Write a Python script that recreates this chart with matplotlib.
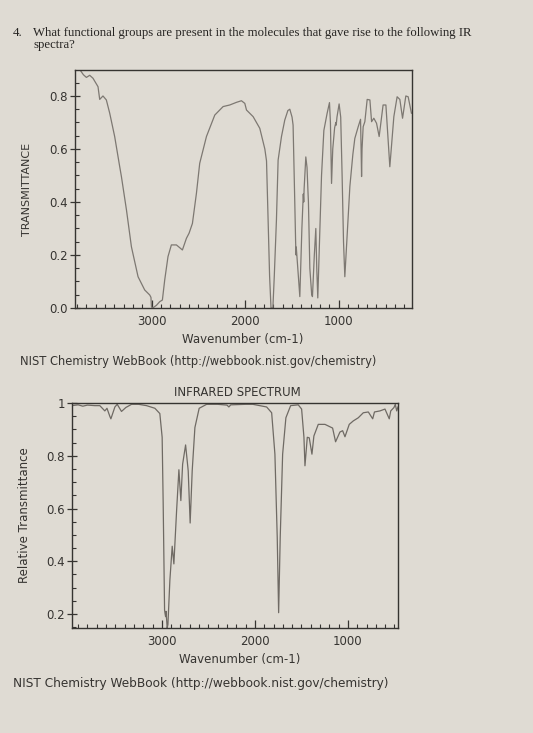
import matplotlib
matplotlib.use("Agg")
import matplotlib.pyplot as plt
from matplotlib.ticker import MultipleLocator

# top spectrum
wn_top = [3770, 3730, 3698, 3663, 3628, 3574, 3556, 3521, 3485, 3449, 3396, 3342, 3324, 3270,
          3217, 3146, 3075, 3021, 3008, 3003, 2990, 2950, 2914, 2886, 2861, 2826, 2790, 2736,
          2672, 2629, 2601, 2565, 2522, 2487, 2415, 2326, 2237, 2166, 2094, 2041, 2005, 1987,
          1916, 1845, 1791, 1773, 1756, 1740, 1725, 1705, 1690, 1667, 1649, 1613, 1578, 1545,
          1524, 1500, 1489, 1471, 1462, 1458, 1455, 1417, 1395, 1380, 1375, 1371, 1353, 1340,
          1330, 1325, 1310, 1290, 1282, 1262, 1246, 1236, 1225, 1205, 1185, 1160, 1125, 1100,
          1090, 1078, 1065, 1045, 1032, 1028, 1020, 997, 980, 965, 950, 936, 915, 882, 850, 829,
          793, 768, 760, 757, 752, 740, 722, 697, 668, 650, 626, 597, 569, 527, 497, 455, 412,
          377, 348, 319, 284, 259, 224]
t_top = [0.900, 0.880, 0.870, 0.878, 0.867, 0.835, 0.787, 0.800, 0.785, 0.735, 0.647, 0.533, 0.496, 0.370,
         0.231, 0.118, 0.068, 0.049, 0.040, 0.005, 0.000, 0.010, 0.024, 0.030, 0.106, 0.194, 0.238, 0.238,
         0.219, 0.263, 0.282, 0.319, 0.433, 0.546, 0.647, 0.728, 0.760, 0.766, 0.776, 0.782, 0.772, 0.747,
         0.722, 0.678, 0.600, 0.555, 0.332, 0.120, 0.000, 0.000, 0.120, 0.332, 0.558, 0.647, 0.709, 0.745,
         0.750, 0.720, 0.690, 0.400, 0.250, 0.200, 0.230, 0.043, 0.300, 0.430, 0.400, 0.450, 0.570, 0.530,
         0.440, 0.400, 0.150, 0.050, 0.043, 0.200, 0.300, 0.150, 0.038, 0.270, 0.500, 0.670, 0.735, 0.775,
         0.700, 0.470, 0.600, 0.680, 0.700, 0.690, 0.720, 0.770, 0.720, 0.500, 0.250, 0.118, 0.250, 0.459, 0.580, 0.640,
         0.684, 0.712, 0.560, 0.496, 0.600, 0.684, 0.703, 0.787, 0.785, 0.703, 0.716, 0.697, 0.647, 0.766, 0.766, 0.533, 0.722,
         0.797, 0.787, 0.716, 0.800, 0.797, 0.735]

# bottom spectrum
wn_bot = [3966, 3900, 3850, 3800, 3720, 3667, 3613, 3590, 3560, 3548, 3505, 3480, 3434, 3387,
          3326, 3250, 3165, 3075, 3022, 2997, 2986, 2971, 2965, 2960, 2955, 2943, 2935, 2914,
          2889, 2871, 2842, 2817, 2796, 2777, 2745, 2717, 2696, 2674, 2645, 2599, 2519, 2400,
          2300, 2280, 2260, 2100, 2022, 1874, 1820, 1785, 1760, 1745, 1728, 1702, 1667, 1616,
          1534, 1498, 1473, 1462, 1437, 1416, 1387, 1366, 1319, 1247, 1165, 1133, 1086, 1057,
          1032, 986, 943, 889, 835, 781, 734, 715, 656, 602, 556, 540, 505, 491, 476, 462]
t_bot = [0.990, 0.993, 0.988, 0.992, 0.990, 0.990, 0.970, 0.980, 0.950, 0.940, 0.985, 0.995, 0.968, 0.983,
         0.995, 0.995, 0.990, 0.980, 0.960, 0.870, 0.620, 0.215, 0.200, 0.190, 0.210, 0.147, 0.160, 0.328,
         0.457, 0.390, 0.590, 0.747, 0.630, 0.768, 0.841, 0.743, 0.545, 0.743, 0.907, 0.980, 0.995, 0.995,
         0.992, 0.985, 0.993, 0.995, 0.995, 0.985, 0.963, 0.806, 0.490, 0.205, 0.490, 0.806, 0.944, 0.990,
         0.993, 0.977, 0.870, 0.762, 0.870, 0.868, 0.806, 0.875, 0.919, 0.919, 0.905, 0.853, 0.890, 0.895,
         0.872, 0.919, 0.932, 0.944, 0.963, 0.966, 0.940, 0.966, 0.970, 0.977, 0.940, 0.970, 0.983, 0.995, 0.970, 0.985]

yticks_top = [0.0, 0.2, 0.4, 0.6, 0.8]
ylabels_top = ["0.0", "0.2", "0.4", "0.6", "0.8"]
yticks_bot = [0.2, 0.4, 0.6, 0.8, 1.0]
ylabels_bot = ["0.2", "0.4", "0.6", "0.8", "1"]

PAPER = "#dfdbd3"
INK = "#363431"
W, H = 533, 733

fig = plt.figure(figsize=(W / 100, H / 100), dpi=100, facecolor=PAPER)


def box(l, t, r, b):
    return [l / W, 1 - b / H, (r - l) / W, (b - t) / H]


def txt(x, y, s, **kw):
    fig.text(x / W, 1 - y / H, s, color=INK, **kw)


def style(ax, xlim, ylim, yt, yl):
    ax.set_facecolor(PAPER)
    ax.set_xlim(*xlim)
    ax.set_ylim(*ylim)
    ax.xaxis.set_major_locator(MultipleLocator(1000))
    ax.xaxis.set_minor_locator(MultipleLocator(100))
    ax.set_yticks(yt)
    ax.set_yticklabels(yl)
    ax.yaxis.set_minor_locator(MultipleLocator(0.05))
    ax.tick_params(which="both", colors=INK, labelsize=8.5, top=False, right=False)
    ax.tick_params(axis="y", which="major", direction="inout", length=7, width=0.9, pad=1.5)
    ax.tick_params(axis="x", which="major", direction="in", length=6, width=0.9, pad=5)
    ax.tick_params(which="minor", direction="in", length=3, width=0.8)
    for s in ax.spines.values():
        s.set_color(INK)
        s.set_linewidth(1.0)


serif = dict(family="Liberation Serif", fontsize=9.2, va="center", color="#262422")
fig.text(13 / W, 1 - 33 / H, "4.", **serif)
fig.text(33 / W, 1 - 33 / H,
         "What functional groups are present in the molecules that gave rise to the following IR", **serif)
fig.text(33 / W, 1 - 45 / H, "spectra?", **serif)

ax1 = fig.add_axes(box(75, 70, 412, 308))
ax1.plot(wn_top, t_top, color="#7d7872", lw=0.9)
style(ax1, (3820, 218), (0, 0.898), yticks_top, ylabels_top)
txt(27, 189, "TRANSMITTANCE", fontsize=8, rotation=90, ha="center", va="center")
txt(243, 340, "Wavenumber (cm-1)", fontsize=8.5, ha="center", va="center")
txt(20, 362, "NIST Chemistry WebBook (http://webbook.nist.gov/chemistry)", fontsize=8.3, va="center")

ax2 = fig.add_axes(box(72, 403, 398, 628))
ax2.plot(wn_bot, t_bot, color="#6f6a64", lw=0.9)
style(ax2, (3966, 462), (0.147, 1.0), yticks_bot, ylabels_bot)
txt(237, 392, "INFRARED SPECTRUM", fontsize=8.5, ha="center", va="center")
txt(25, 515, "Relative Transmittance", fontsize=8.5, rotation=90, ha="center", va="center")
txt(240, 659, "Wavenumber (cm-1)", fontsize=8.5, ha="center", va="center")
txt(13, 683, "NIST Chemistry WebBook (http://webbook.nist.gov/chemistry)", fontsize=8.75, va="center")

fig.savefig("out.png", dpi=100, facecolor=PAPER)
